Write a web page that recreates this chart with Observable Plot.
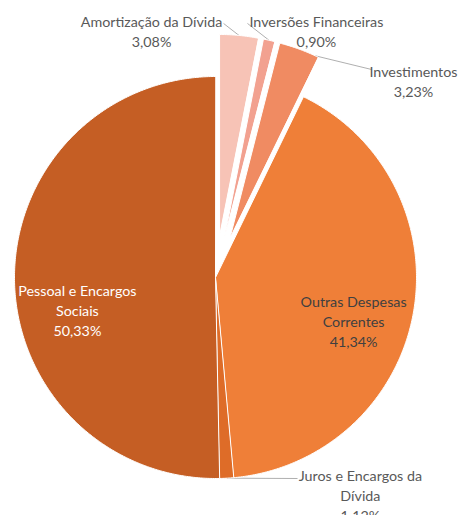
<!DOCTYPE html>
<html><head><meta charset="utf-8">
<script src="https://cdn.jsdelivr.net/npm/d3@7"></script>
<script src="https://cdn.jsdelivr.net/npm/@observablehq/plot@0.6"></script>
<style>body{margin:0;background:#fff;}</style>
</head><body><div id="chart"></div>
<script>
// ---- data ----
const categories = ["Amortização da Dívida", "Inversões Financeiras", "Investimentos", "Outras Despesas Correntes", "Juros e Encargos da Dívida", "Pessoal e Encargos Sociais"];
const labelNames = ["Amortização da Dívida", "Inversões Financeiras", "Investimentos", "Outras Despesas\nCorrentes", "Juros e Encargos da\nDívida", "Pessoal e Encargos\nSociais"];
const shares = [3.08, 0.90, 3.23, 41.34, 1.12, 50.33];
const valueLabels = ["3,08%", "0,90%", "3,23%", "41,34%", "1,12%", "50,33%"];

// ---- styles / layout ----
const colors = ["#F7C3B6", "#F2A190", "#F08B62", "#EF7F38", "#DE6C28", "#C55E24"];
const explode = [0.21, 0.21, 0.21, 0, 0, 0];
const labelPos = [[-0.318, 1.229], [0.502, 1.229], [0.985, 0.98], [0.687, -0.214], [0.721, -1.08], [-0.687, -0.159]];
const labelColor = ["#595959", "#595959", "#595959", "#404040", "#595959", "#FFFFFF"];
const leaderEnd = [[0.04, 1.264], [0.159, 1.264], [0.776, 1.035], null, [0.408, -1.0], null];
const leaderFrac = [0.5, 0.5, 0.92, null, 0.5, null];

// ---- geometry from data ----
const total = d3.sum(shares);
let acc = 0;
const slices = shares.map((v, i) => {
  const a0 = acc / total * 2 * Math.PI; acc += v;
  const a1 = acc / total * 2 * Math.PI;
  const mid = (a0 + a1) / 2;
  return {i, name: categories[i], a0, a1, mid, cx: explode[i] * Math.sin(mid), cy: explode[i] * Math.cos(mid)};
});
const polys = [];
for (const s of slices) {
  polys.push({name: s.name, x: s.cx, y: s.cy});
  const n = Math.max(2, Math.ceil((s.a1 - s.a0) / (Math.PI / 360)) + 1);
  for (let k = 0; k < n; k++) {
    const a = s.a0 + (s.a1 - s.a0) * k / (n - 1);
    polys.push({name: s.name, x: s.cx + Math.sin(a), y: s.cy + Math.cos(a)});
  }
}
const labels = slices.map(s => ({
  text: labelNames[s.i] + "\n" + valueLabels[s.i],
  x: labelPos[s.i][0], y: labelPos[s.i][1], color: labelColor[s.i]
}));
const leaders = slices.filter(s => leaderEnd[s.i]).map(s => {
  const a = s.a0 + (s.a1 - s.a0) * leaderFrac[s.i];
  return {x1: s.cx + Math.sin(a), y1: s.cy + Math.cos(a), x2: leaderEnd[s.i][0], y2: leaderEnd[s.i][1]};
});

const chart = Plot.plot({
  width: 462, height: 515,
  marginTop: 0, marginRight: 0, marginBottom: 0, marginLeft: 0,
  x: {domain: [-215 / 201, 247 / 201], axis: null},
  y: {domain: [-238 / 201, 277 / 201], axis: null},
  color: {domain: categories, range: colors},
  style: {background: "#fff"},
  marks: [
    Plot.link(leaders, {x1: "x1", y1: "y1", x2: "x2", y2: "y2", stroke: "#A6A6A6", strokeWidth: 0.9}),
    Plot.line(polys, {x: "x", y: "y", z: "name", fill: "name", stroke: "#fff", strokeWidth: 1, curve: "linear-closed"}),
    Plot.text(labels, {x: "x", y: "y", text: "text", fill: {value: d => d.color, scale: null}, fontFamily: "Lato, 'Open Sans', sans-serif", fontSize: 14.3, lineHeight: 1.4, textAnchor: "middle"})
  ]
});
document.getElementById("chart").appendChild(chart);
</script>
</body></html>
